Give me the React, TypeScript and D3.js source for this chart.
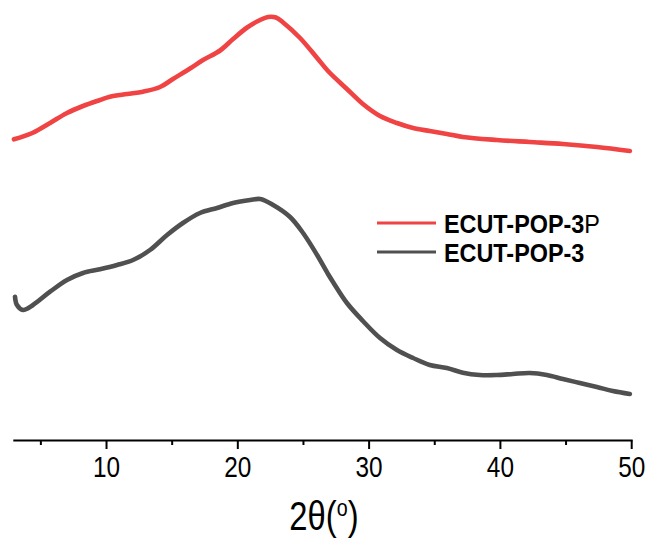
import React from "react";
import * as d3 from "d3";

// 2θ (degrees) and intensity (a.u.)
const theta3P = [2.95, 4.35, 5.7, 6.99, 8.21, 9.5, 10.26, 11.56, 12.78, 14.08, 15.06, 16.36, 17.35, 18.65, 19.64, 20.71, 21.7, 22.3, 22.9, 23.45, 24.74, 26.04, 26.87, 28.31, 29.53, 30.83, 32.12, 33.35, 34.62, 35.92, 37.14, 39.73, 42.24, 44.76, 47.35, 49.86];
const int3P = [3007, 3070, 3170, 3270, 3340, 3400, 3433, 3460, 3483, 3530, 3610, 3715, 3800, 3895, 4010, 4125, 4200, 4230, 4225, 4175, 4020, 3820, 3690, 3510, 3360, 3240, 3170, 3120, 3090, 3060, 3030, 3000, 2980, 2960, 2930, 2890];

const theta3 = [3.03, 3.18, 3.64, 4.4, 5.7, 6.99, 8.21, 9.5, 10.8, 12.02, 13.31, 14.61, 15.82, 17.12, 18.42, 19.64, 20.94, 21.7, 22.69, 23.98, 24.97, 26.04, 26.87, 27.25, 28.31, 29.53, 30.83, 32.12, 33.35, 34.62, 35.92, 37.14, 38.43, 39.73, 40.95, 42.24, 43.54, 44.76, 46.05, 47.35, 48.57, 49.86];
const int3 = [1433, 1350, 1300, 1350, 1483, 1600, 1670, 1707, 1750, 1800, 1900, 2050, 2170, 2270, 2320, 2370, 2400, 2410, 2350, 2230, 2070, 1850, 1660, 1580, 1370, 1190, 1020, 900, 820, 750, 720, 673, 650, 650, 660, 670, 650, 610, 570, 530, 490, 460];

const majorTicks = [10, 20, 30, 40, 50];
const minorTicks = [5, 15, 25, 35, 45];
const seriesNames = ["ECUT-POP-3", "ECUT-POP-3"];
const seriesColors = ["#f04343", "#505050"];

export default function App() {
  const W = 654, H = 547;
  const x = d3.scaleLinear().domain([2.9, 50]).range([13.3, 631.7]);
  const y = d3.scaleLinear().domain([0, 4400]).range([440, 0]);
  const axisY = 440.5;
  const line = d3
    .line<[number, number]>()
    .x((d) => x(d[0]))
    .y((d) => y(d[1]))
    .curve(d3.curveCatmullRom.alpha(0.5));
  const dP = line(theta3P.map((t, i) => [t, int3P[i]] as [number, number])) || "";
  const d3s = line(theta3.map((t, i) => [t, int3[i]] as [number, number])) || "";
  const font = "'Liberation Sans', Arial, sans-serif";

  return (
    <svg width={W} height={H} style={{ position: "absolute", left: 0, top: 0, background: "#fff" }} fontFamily={font}>
      <path d={dP} fill="none" stroke={seriesColors[0]} strokeWidth={4.6} strokeLinejoin="round" strokeLinecap="round" />
      <path d={d3s} fill="none" stroke={seriesColors[1]} strokeWidth={4.6} strokeLinejoin="round" strokeLinecap="round" />

      {/* x axis */}
      <line x1={x(2.9)} x2={x(50) + 1} y1={axisY} y2={axisY} stroke="#000" strokeWidth={2} />
      {majorTicks.map((t) => (
        <g key={"M" + t}>
          <line x1={x(t)} x2={x(t)} y1={axisY} y2={axisY + 8.5} stroke="#000" strokeWidth={2} />
          <g transform={`translate(${x(t)},477) scale(0.84,1)`}>
            <text x={0} y={0} textAnchor="middle" fontSize={29} fill="#000">{t}</text>
          </g>
        </g>
      ))}
      {minorTicks.map((t) => (
        <line key={"m" + t} x1={x(t)} x2={x(t)} y1={axisY} y2={axisY + 4.5} stroke="#000" strokeWidth={2} />
      ))}
      <g transform={`translate(324,530) scale(0.82,1)`}>
        <text x={0} y={0} textAnchor="middle" fontSize={40} fill="#000">
          2θ(<tspan fontSize={24} dy={-14}>o</tspan><tspan dy={14}>)</tspan>
        </text>
      </g>

      {/* legend */}
      <line x1={377} x2={436} y1={223} y2={223} stroke={seriesColors[0]} strokeWidth={3} />
      <line x1={377} x2={436} y1={252} y2={252} stroke={seriesColors[1]} strokeWidth={3} />
      <g transform="translate(444,233) scale(0.9,1)">
        <text x={0} y={0} fontSize={26} fontWeight="bold" fill="#000">
          {seriesNames[0]}<tspan fontWeight="normal">P</tspan>
        </text>
      </g>
      <g transform="translate(444,262) scale(0.9,1)">
        <text x={0} y={0} fontSize={26} fontWeight="bold" fill="#000">{seriesNames[1]}</text>
      </g>
    </svg>
  );
}
